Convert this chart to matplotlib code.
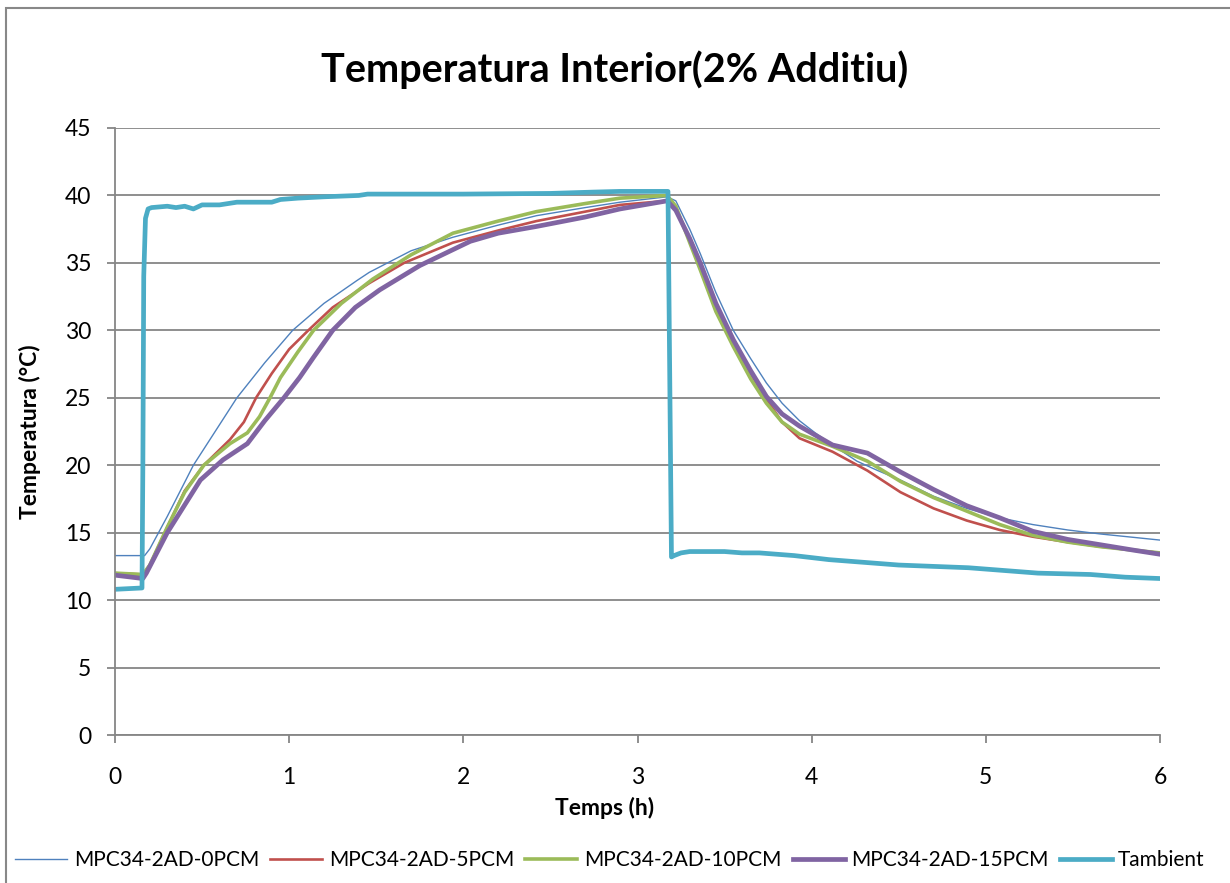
import matplotlib
matplotlib.use("Agg")
import matplotlib.pyplot as plt
from matplotlib.patches import Rectangle

plt.rcParams['font.family'] = ['Lato', 'DejaVu Sans']

# data
t_0pcm = [0, 0.17, 0.2, 0.3, 0.45, 0.58, 0.70, 0.86, 1.02, 1.2, 1.39, 1.46, 1.7, 1.94, 2.2,
          2.42, 2.7, 2.9, 3.17, 3.22, 3.3, 3.36, 3.45, 3.55, 3.65, 3.74, 3.83, 3.93, 4.02,
          4.12, 4.26, 4.38, 4.51, 4.70, 4.89, 5.08, 5.27, 5.47, 5.66, 5.85, 6.0]
T_0pcm = [13.3, 13.3, 13.8, 16.2, 20.0, 22.6, 25.0, 27.6, 30.0, 32.0, 33.7, 34.3, 35.9, 36.9, 37.8,
          38.5, 39.1, 39.5, 39.9, 39.6, 37.5, 35.7, 32.8, 30.0, 27.9, 26.1, 24.6, 23.3, 22.4,
          21.5, 20.3, 19.6, 18.9, 17.7, 16.8, 16.1, 15.6, 15.2, 14.9, 14.65, 14.45]

t_5pcm = [0, 0.16, 0.2, 0.3, 0.4, 0.51, 0.66, 0.74, 0.81, 0.9, 1.0, 1.11, 1.25, 1.46, 1.66,
          1.94, 2.2, 2.42, 2.7, 2.9, 3.17, 3.22, 3.3, 3.36, 3.45, 3.55, 3.65, 3.74, 3.83,
          3.93, 4.12, 4.32, 4.51, 4.70, 4.89, 5.08, 5.27, 5.47, 5.66, 5.85, 6.0]
T_5pcm = [12.0, 11.9, 12.6, 15.4, 18.1, 20.0, 21.9, 23.2, 25.0, 26.8, 28.6, 30.0, 31.7, 33.5, 35.0,
          36.5, 37.4, 38.1, 38.8, 39.3, 39.6, 39.0, 36.8, 35.0, 31.8, 29.1, 26.8, 24.9, 23.2,
          22.0, 21.0, 19.6, 18.0, 16.8, 15.9, 15.2, 14.7, 14.3, 13.96, 13.7, 13.5]

t_10pcm = [0, 0.16, 0.2, 0.3, 0.4, 0.51, 0.66, 0.76, 0.83, 0.89, 0.95, 1.05, 1.14, 1.3, 1.48,
           1.7, 1.94, 2.2, 2.42, 2.7, 2.9, 3.17, 3.22, 3.3, 3.36, 3.45, 3.55, 3.65, 3.74,
           3.83, 3.93, 4.12, 4.32, 4.51, 4.70, 4.89, 5.08, 5.27, 5.47, 5.66, 5.85, 6.0]
T_10pcm = [12.0, 11.9, 12.6, 15.4, 18.0, 20.0, 21.6, 22.4, 23.6, 25.0, 26.5, 28.4, 30.0, 32.0, 33.8,
           35.6, 37.2, 38.1, 38.8, 39.4, 39.8, 40.0, 39.2, 36.5, 34.5, 31.4, 28.8, 26.4, 24.6,
           23.2, 22.3, 21.4, 20.3, 18.8, 17.6, 16.6, 15.6, 14.8, 14.3, 13.96, 13.7, 13.5]

t_15pcm = [0, 0.16, 0.18, 0.3, 0.49, 0.62, 0.76, 0.86, 0.97, 1.06, 1.14, 1.25, 1.38, 1.52, 1.75,
           2.04, 2.2, 2.42, 2.7, 2.9, 3.17, 3.22, 3.3, 3.36, 3.45, 3.55, 3.65, 3.74, 3.83,
           3.93, 4.12, 4.32, 4.51, 4.70, 4.89, 5.08, 5.27, 5.47, 5.66, 5.85, 6.0]
T_15pcm = [11.85, 11.6, 12.0, 15.0, 18.9, 20.4, 21.6, 23.3, 25.0, 26.5, 28.0, 30.0, 31.7, 33.0, 34.8,
           36.6, 37.2, 37.7, 38.4, 39.0, 39.6, 38.9, 36.8, 35.0, 32.0, 29.3, 27.0, 25.1, 23.8,
           22.9, 21.5, 20.9, 19.5, 18.2, 17.0, 16.1, 15.1, 14.5, 14.1, 13.7, 13.4]

t_amb = [0, 0.155, 0.16, 0.165, 0.175, 0.19, 0.21, 0.3, 0.35, 0.4, 0.45, 0.5, 0.6, 0.7, 0.9,
         0.95, 1.05, 1.2, 1.4, 1.45, 2.0, 2.5, 2.75, 2.9, 3.175, 3.195, 3.21, 3.25, 3.3, 3.5,
         3.6, 3.7, 3.9, 4.1, 4.3, 4.5, 4.7, 4.9, 5.1, 5.3, 5.6, 5.8, 6.0]
T_amb = [10.8, 10.9, 20.0, 34.0, 38.3, 39.0, 39.1, 39.2, 39.1, 39.2, 39.0, 39.3, 39.3, 39.5, 39.5,
         39.7, 39.8, 39.9, 40.0, 40.1, 40.1, 40.15, 40.25, 40.3, 40.3, 13.2, 13.3, 13.5, 13.6, 13.6,
         13.5, 13.5, 13.3, 13.0, 12.8, 12.6, 12.5, 12.4, 12.2, 12.0, 11.9, 11.7, 11.6]

fig = plt.figure(figsize=(12.3, 8.83), dpi=100)
ax = fig.add_axes([115/1230, 1 - 735/883, 1045/1230, 607/883])

ax.plot(t_0pcm, T_0pcm, color='#4F81BD', lw=1.0, label='MPC34-2AD-0PCM')
ax.plot(t_5pcm, T_5pcm, color='#C0504D', lw=1.9, label='MPC34-2AD-5PCM')
ax.plot(t_10pcm, T_10pcm, color='#9BBB59', lw=2.6, label='MPC34-2AD-10PCM')
ax.plot(t_15pcm, T_15pcm, color='#8064A2', lw=3.4, label='MPC34-2AD-15PCM')
ax.plot(t_amb, T_amb, color='#4BACC6', lw=3.4, label='Tambient')

ax.set_xlim(0, 6)
ax.set_ylim(0, 45)
ax.set_xticks(range(0, 7))
ax.set_yticks(range(0, 46, 5))
ax.yaxis.grid(True, color='#868686', lw=1.3)
ax.set_axisbelow(True)
for s in ['top', 'right']:
    ax.spines[s].set_visible(False)
for s in ['left', 'bottom']:
    ax.spines[s].set_color('#868686')
    ax.spines[s].set_linewidth(1.3)
ax.tick_params(axis='both', colors='#868686', labelcolor='black', labelsize=16.5,
               length=6, width=1.3)
ax.tick_params(axis='y', pad=11)
ax.tick_params(axis='x', pad=17)

fig.text(615/1230, 1 - 70/883, 'Temperatura Interior(2% Additiu)', ha='center', va='center',
         fontsize=28.5, fontweight='bold')
fig.text(30/1230, 1 - 432/883, 'Temperatura (°C)', rotation=90, ha='center', va='center',
         fontsize=16.5, fontweight='bold')
fig.text(605/1230, 1 - 808/883, 'Temps (h)', ha='center', va='center',
         fontsize=16.5, fontweight='bold')

fig.legend(loc='center', bbox_to_anchor=(610/1230, 1 - 860/883), ncol=5, frameon=False,
           fontsize=15, handlelength=2.5, handletextpad=0.3, columnspacing=0.55)

fig.patches.append(Rectangle((5.5/1230, -0.01), 1.1, 1 - 7.5/883 + 0.01, transform=fig.transFigure,
                             fill=False, edgecolor='#888888', lw=1.5))

fig.savefig('out.png', dpi=100)
